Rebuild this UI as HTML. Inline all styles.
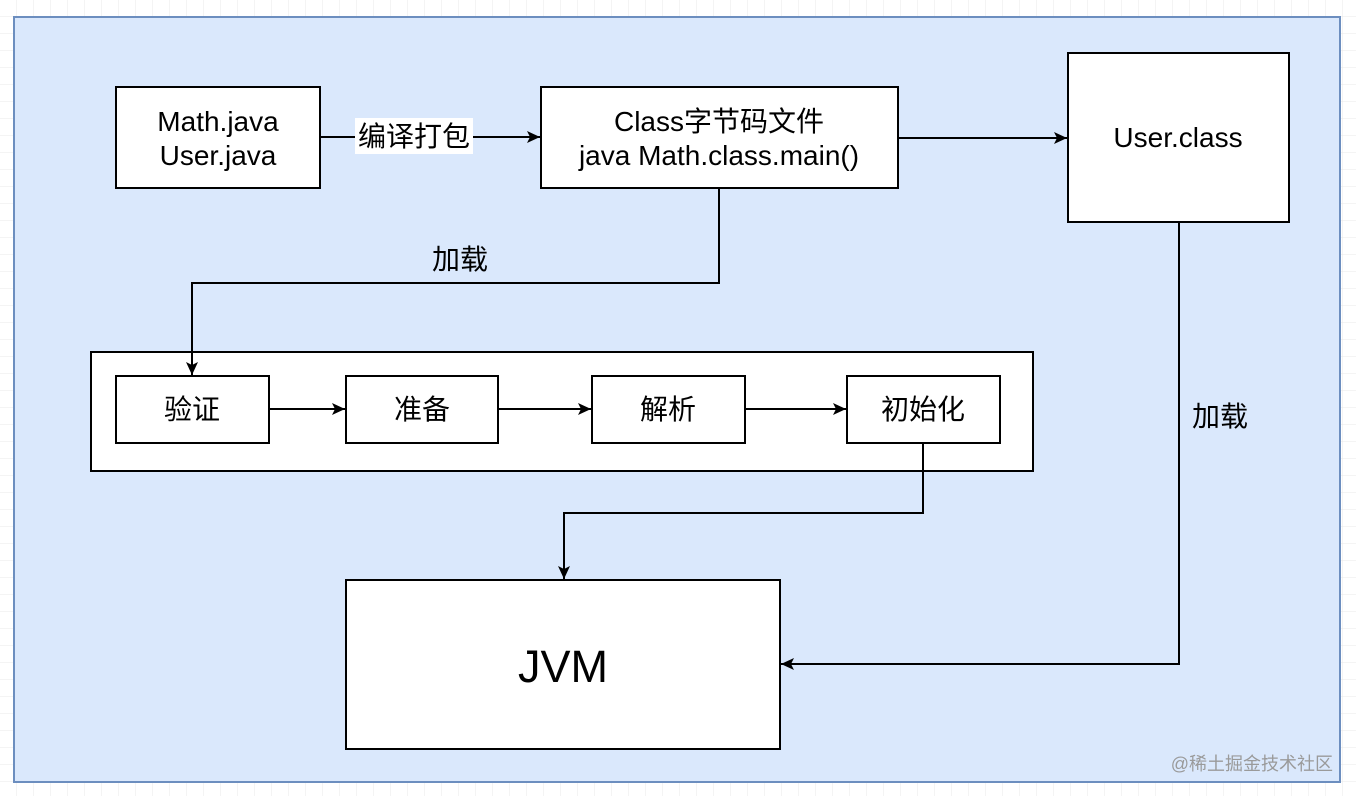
<!DOCTYPE html>
<html><head><meta charset="utf-8"><style>
html,body{margin:0;padding:0;background:#fff}
svg text{font-family:"Liberation Sans","Noto Sans CJK SC",sans-serif;fill:#000}
</style></head><body>
<svg width="1356" height="796" viewBox="0 0 1356 796" xmlns="http://www.w3.org/2000/svg">
<defs>
<pattern id="g" width="17" height="17" patternUnits="userSpaceOnUse"><path d="M17 0V17H0" fill="none" stroke="#e8e8e8" stroke-width="1"/></pattern>
<marker id="a" markerWidth="14" markerHeight="14" refX="13" refY="6" orient="auto" markerUnits="userSpaceOnUse"><path d="M0,0 L13,6 L0,12 L3,6 Z" fill="#000"/></marker>
</defs>
<rect width="1356" height="796" fill="url(#g)"/>
<rect x="14" y="17" width="1326" height="765" fill="#dae8fc" stroke="#6c8ebf" stroke-width="2"/>
<g fill="#fff" stroke="#000" stroke-width="2">
<rect x="116" y="87" width="204" height="101"/>
<rect x="541" y="87" width="357" height="101"/>
<rect x="1068" y="53" width="221" height="169"/>
<rect x="91" y="352" width="942" height="119"/>
<rect x="116" y="376" width="153" height="67"/>
<rect x="346" y="376" width="152" height="67"/>
<rect x="592" y="376" width="153" height="67"/>
<rect x="847" y="376" width="153" height="67"/>
<rect x="346" y="580" width="434" height="169"/>
</g>
<g fill="none" stroke="#000" stroke-width="2" marker-end="url(#a)">
<path d="M320 137H540"/>
<path d="M898 138H1067"/>
<path d="M719 188V283H192V375"/>
<path d="M1179 222V664H781"/>
<path d="M923 443V513H564V579"/>
<path d="M269 409H345"/>
<path d="M498 409H591"/>
<path d="M745 409H846"/>
</g>
<rect x="355" y="118" width="118" height="36" fill="#fff"/>
<g font-size="28" text-anchor="middle">
<text x="218" y="131">Math.java</text>
<text x="218" y="165">User.java</text>
<text x="414" y="146">编译打包</text>
<text x="719" y="131">Class字节码文件</text>
<text x="719" y="165">java Math.class.main()</text>
<text x="1178" y="147">User.class</text>
<text x="460" y="269">加载</text>
<text x="1220" y="426">加载</text>
<text x="192" y="419">验证</text>
<text x="422" y="419">准备</text>
<text x="668" y="419">解析</text>
<text x="923" y="419">初始化</text>
<text x="563" y="682" font-size="45">JVM</text>
</g>
<text x="1333" y="770" font-size="18" text-anchor="end" style="fill:#9a9a9a">@稀土掘金技术社区</text>
</svg>
</body></html>
